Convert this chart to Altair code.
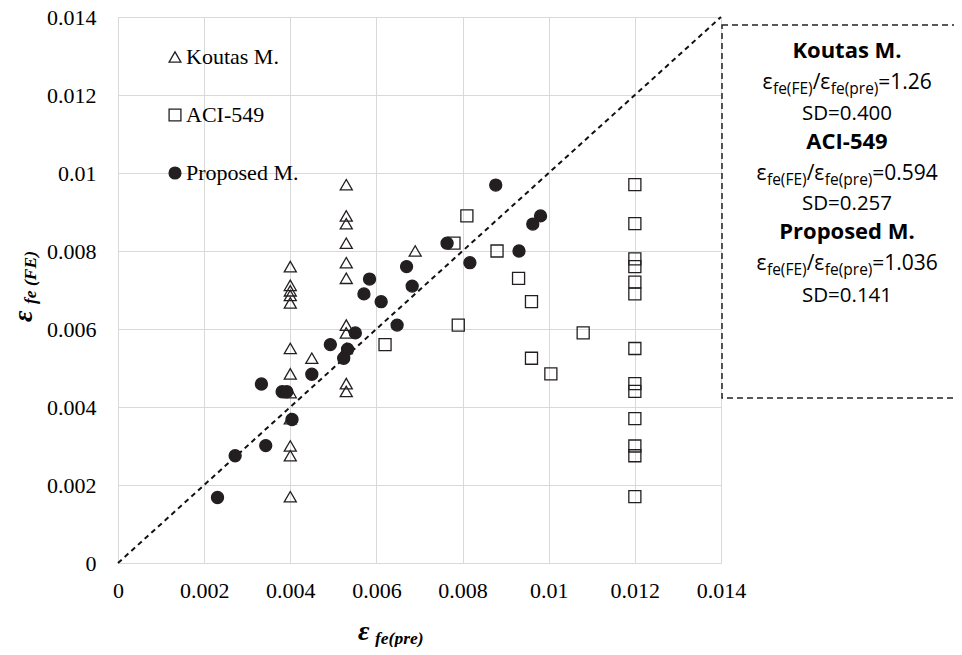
import altair as alt
import pandas as pd

# ---------------- data ----------------
series_names = ["Koutas M.", "ACI-549", "Proposed M."]

koutas_pre = [0.004, 0.004, 0.004, 0.004, 0.004, 0.004, 0.004, 0.004, 0.004, 0.004, 0.004, 0.004,
              0.0053, 0.0053, 0.0053, 0.0053, 0.0053, 0.0053, 0.0053, 0.0053, 0.0053, 0.0053, 0.0053,
              0.0045, 0.0069]
koutas_fe = [0.0076, 0.00712, 0.00698, 0.00686, 0.00667, 0.0055, 0.00485, 0.00437, 0.0037, 0.0030, 0.00275, 0.0017,
             0.0097, 0.0089, 0.0087, 0.0082, 0.0077, 0.0073, 0.0061, 0.0059, 0.0055, 0.0046, 0.0044,
             0.00525, 0.0080]

aci_pre = [0.0062, 0.0079, 0.0078, 0.0081, 0.0088, 0.0093, 0.0096, 0.0096, 0.01005, 0.0108,
           0.012, 0.012, 0.012, 0.012, 0.012, 0.012, 0.012, 0.012, 0.012, 0.012, 0.012, 0.012, 0.012]
aci_fe = [0.0056, 0.0061, 0.0082, 0.0089, 0.0080, 0.0073, 0.0067, 0.00525, 0.00485, 0.0059,
          0.0097, 0.0087, 0.0078, 0.0076, 0.0072, 0.0069, 0.0055, 0.0046, 0.0044, 0.0037, 0.0030, 0.00275, 0.0017]

prop_pre = [0.00231, 0.00272, 0.00343, 0.00404, 0.00333, 0.00381, 0.00392, 0.0045, 0.00493, 0.00524,
            0.00533, 0.00551, 0.00571, 0.00611, 0.00584, 0.00648, 0.00683, 0.0067, 0.00764, 0.00817,
            0.00877, 0.00931, 0.00963, 0.00981]
prop_fe = [0.00168, 0.00275, 0.00301, 0.00368, 0.00459, 0.00439, 0.00439, 0.00484, 0.0056, 0.00525,
           0.00548, 0.0059, 0.0069, 0.0067, 0.00728, 0.0061, 0.0071, 0.0076, 0.0082, 0.0077,
           0.00969, 0.0080, 0.00869, 0.0089]

axis_ticks = [0, 0.002, 0.004, 0.006, 0.008, 0.01, 0.012, 0.014]
diag_vals = [0, 0.014]

stats_titles = ["Koutas M.", "ACI-549", "Proposed M."]
stats_ratio = ["1.26", "0.594", "1.036"]
stats_sd = ["SD=0.400", "SD=0.257", "SD=0.141"]

# ---------------- tables ----------------
rows = []
for n, xs, ys in [(series_names[0], koutas_pre, koutas_fe),
                  (series_names[1], aci_pre, aci_fe),
                  (series_names[2], prop_pre, prop_fe)]:
    for a, b in zip(xs, ys):
        rows.append({"series": n, "pre": a, "fe": b})
df = pd.DataFrame(rows)
diag = pd.DataFrame({"pre": diag_vals, "fe": diag_vals})
one = pd.DataFrame({"k": [0]})

W, H = 603, 546
SERIF = "Liberation Serif"
SANS = "Open Sans"
INK = "#231f20"

xscale = alt.Scale(domain=[0, 0.014], nice=False, zero=True)
yscale = alt.Scale(domain=[0, 0.014], nice=False, zero=True)

x_axis = alt.Axis(values=axis_ticks, format="~g", title=None, labelFont=SERIF, labelFontSize=22,
                  labelColor="black", ticks=False, tickSize=0, domain=False, labelPadding=17,
                  labelFlush=False, labelOverlap=False, gridColor="#d9d9d9", gridWidth=1)
y_axis = alt.Axis(values=axis_ticks, format="~g", title=None, labelFont=SERIF, labelFontSize=22,
                  labelColor="black", ticks=False, tickSize=0, domain=False, labelPadding=22,
                  labelFlush=False, labelOverlap=False, gridColor="#d9d9d9", gridWidth=1)

leg = alt.Legend(orient="none", legendX=46, legendY=29, title=None, labelFont=SERIF,
                 labelFontSize=22, labelColor="black", rowPadding=36, padding=0,
                 symbolSize=140, symbolStrokeWidth=1.3, labelOffset=0, symbolOpacity=1)
sort_order = series_names

points = alt.Chart(df).mark_point(opacity=1, size=145, strokeWidth=1.3).encode(
    x=alt.X("pre:Q", scale=xscale, axis=x_axis),
    y=alt.Y("fe:Q", scale=yscale, axis=y_axis),
    shape=alt.Shape("series:N", sort=sort_order,
                    scale=alt.Scale(domain=series_names, range=["triangle-up", "square", "circle"]),
                    legend=leg),
    fill=alt.Fill("series:N", sort=sort_order,
                  scale=alt.Scale(domain=series_names, range=["transparent", "transparent", INK]),
                  legend=leg),
    stroke=alt.Stroke("series:N", sort=sort_order,
                      scale=alt.Scale(domain=series_names, range=[INK, INK, INK]),
                      legend=leg),
)

diag_line = alt.Chart(diag).mark_line(color="#111", strokeWidth=2, strokeDash=[5, 4]).encode(
    x=alt.X("pre:Q", scale=xscale, axis=x_axis),
    y=alt.Y("fe:Q", scale=yscale, axis=y_axis),
)

box = alt.Chart(one).mark_rect(filled=False, stroke="#222", strokeWidth=1.5, strokeDash=[6, 4]).encode(
    x=alt.value(W + 1), x2=alt.value(W + 300), y=alt.value(8), y2=alt.value(381)
)

layers = [diag_line, points, box]


def txt(text, x, y, size, font=SANS, weight="normal", style="normal", align="left",
        angle=0, baseline="alphabetic"):
    return alt.Chart(one).mark_text(text=text, font=font, fontSize=size, fontWeight=weight,
                                    fontStyle=style, align=align, baseline=baseline,
                                    angle=angle, color="black").encode(
        x=alt.value(x), y=alt.value(y))


# approximate Open Sans advance widths (em)
OS = {"ε": 0.50, "f": 0.319, "e": 0.561, "(": 0.296, ")": 0.296, "F": 0.534, "E": 0.556,
      "p": 0.613, "r": 0.408, "/": 0.367, "=": 0.571, ".": 0.258}


def width(s, size):
    return sum(OS.get(c, 0.571) for c in s) * size


CX = 729
M, S = 21, 15.5
title_y = [41, 132, 222]
ratio_y = [72, 163, 253]
sd_y = [103, 193, 285]
for i in range(3):
    layers.append(txt(stats_titles[i], CX, title_y[i], 22, weight="bold", align="center"))
    pieces = [("ε", M, 0), ("fe(FE)", S, 5), ("/ε", M, 0), ("fe(pre)", S, 5), ("=" + stats_ratio[i], M, 0)]
    total = sum(width(p, s) for p, s, _ in pieces)
    cur = CX - total / 2
    for p, s, dy in pieces:
        layers.append(txt(p, cur, ratio_y[i] + dy, s))
        cur += width(p, s)
    layers.append(txt(stats_sd[i], CX, sd_y[i], 20.5, align="center"))

# axis titles (bold italic serif with subscript)
layers.append(txt("ε", 240, 623, 28, font=SERIF, weight="bold", style="italic"))
layers.append(txt("fe(pre)", 257, 627, 17.5, font=SERIF, weight="bold", style="italic"))
layers.append(txt("ε", -86, 305, 28, font=SERIF, weight="bold", style="italic", angle=270))
layers.append(txt("fe (FE)", -82, 287, 17.5, font=SERIF, weight="bold", style="italic", angle=270))

chart = alt.layer(*layers).properties(
    width=W, height=H,
    padding={"left": 110, "top": 9, "right": 233, "bottom": 84},
    autosize=alt.AutoSizeParams(type="none"),
).configure_view(stroke="#222", strokeWidth=1.6).configure(background="white")

chart.save("out.html", embed_options={"renderer": "svg", "actions": False})
